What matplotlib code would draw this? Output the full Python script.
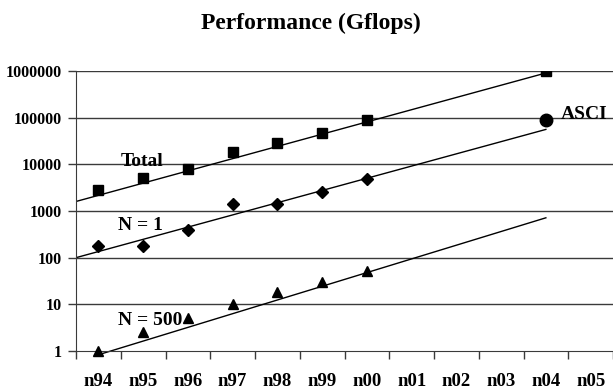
"""
Top500-style performance growth chart (log scale, Gflops).
"""
import matplotlib
matplotlib.use("Agg")
import matplotlib.pyplot as plt
import numpy as np

years = ["n94", "n95", "n96", "n97", "n98", "n99", "n00", "n01", "n02", "n03", "n04", "n05"]

# measured points (index into years, value in Gflops)
total_idx = [0, 1, 2, 3, 4, 5, 6, 10]
total_vals = [2800, 5000, 8000, 18000, 28000, 47000, 88000, 1000000]

n1_idx = [0, 1, 2, 3, 4, 5, 6]
n1_vals = [175, 175, 390, 1400, 1400, 2500, 4900]

n500_idx = [0, 1, 2, 3, 4, 5, 6]
n500_vals = [1.0, 2.5, 5.0, 10.0, 18.0, 29.5, 52.0]

asci_idx = [10]
asci_vals = [90000]

# fitted trend lines (start/end)
total_fit_x = [-0.5, 9.95]
total_fit_y = [1600, 880000]
n1_fit_x = [-0.5, 10.0]
n1_fit_y = [100, 56000]
n500_fit_x = [0.07, 10.0]
n500_fit_y = [0.87, 715]

yticks = [1, 10, 100, 1000, 10000, 100000, 1000000]
ytick_labels = ["1", "10", "100", "1000", "10000", "100000", "1000000"]

FONT = "Liberation Serif"
GRID = "#3a3a3a"


def main():
    plt.rcParams["font.family"] = FONT
    fig = plt.figure(figsize=(6.13, 3.92), dpi=100)
    ax = fig.add_axes([76 / 613, 1 - 351 / 392, 537 / 613, 280 / 392])

    ax.set_yscale("log")
    ax.set_ylim(1, 1e6)
    ax.set_xlim(-0.5, len(years) - 0.5)

    for v in yticks[1:]:
        ax.axhline(v, color=GRID, lw=1.0, zorder=1)

    ax.plot(total_fit_x, total_fit_y, color="black", lw=1.0, zorder=2)
    ax.plot(n1_fit_x, n1_fit_y, color="black", lw=1.0, zorder=2)
    ax.plot(n500_fit_x, n500_fit_y, color="black", lw=1.0, zorder=2, clip_on=False)

    ax.plot(total_idx, total_vals, ls="none", marker="s", ms=7, color="black", zorder=3)
    ax.plot(n1_idx, n1_vals, ls="none", marker="D", ms=6.5, color="black", zorder=3)
    ax.plot(n500_idx, n500_vals, ls="none", marker="^", ms=7, color="black", zorder=3, clip_on=False)
    ax.plot(asci_idx, asci_vals, ls="none", marker="o", ms=9, color="black", zorder=3)

    lbl = dict(fontsize=14, fontweight="bold", color="black", ha="center", va="center")
    ax.text(0.97, 11500, "Total", **lbl)
    ax.text(0.93, 480, "N = 1", **lbl)
    ax.text(1.16, 4.5, "N = 500", **lbl)
    ax.text(10.85, 115000, "ASCI", **lbl)

    ax.set_yticks(yticks)
    ax.set_yticklabels(ytick_labels)
    ax.yaxis.set_minor_locator(matplotlib.ticker.NullLocator())
    ax.set_xticks(np.arange(len(years) + 1) - 0.5, minor=False)
    ax.set_xticklabels([])
    ax.set_xticks(np.arange(len(years)), minor=True)
    ax.set_xticklabels(years, minor=True)

    ax.tick_params(axis="y", which="major", length=6, width=1, color=GRID, pad=4.5,
                   labelsize=11.5)
    ax.tick_params(axis="x", which="major", length=6, width=1, color=GRID)
    ax.tick_params(axis="x", which="minor", length=0, pad=16, labelsize=13.5)
    for t in ax.get_yticklabels() + ax.get_xticklabels(minor=True):
        t.set_fontweight("bold")

    for s in ["top", "right"]:
        ax.spines[s].set_visible(False)
    ax.spines["left"].set_color(GRID)
    ax.spines["bottom"].set_color(GRID)

    fig.text(311 / 613, 1 - 29 / 392, "Performance (Gflops)", ha="center", va="baseline",
             fontsize=17, fontweight="bold")

    fig.savefig("out.png", dpi=100)
    plt.close(fig)


if __name__ == "__main__":
    main()
